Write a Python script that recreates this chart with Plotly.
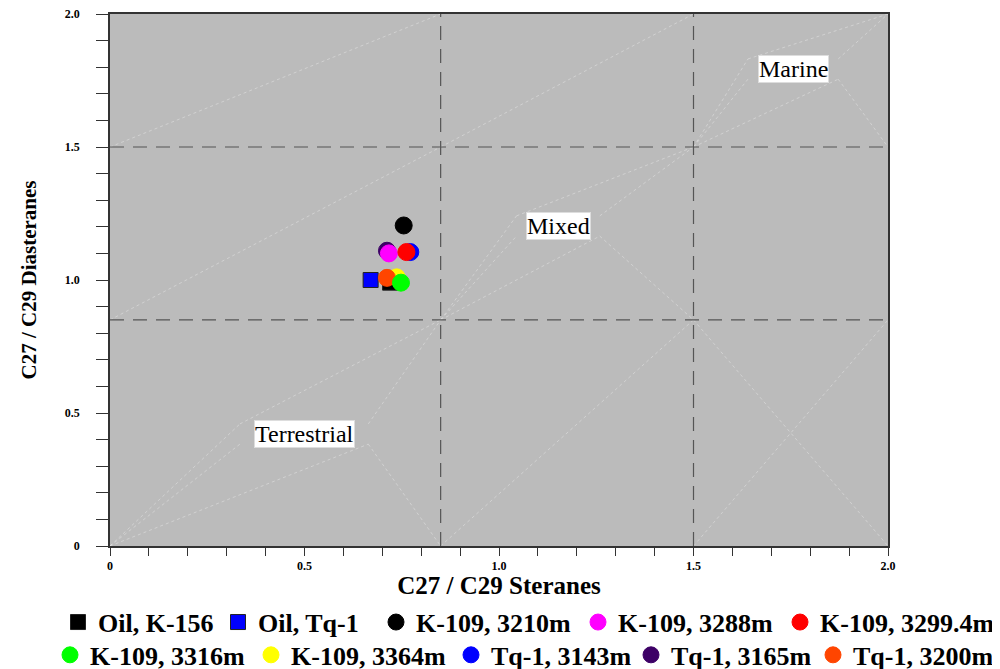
import plotly.graph_objects as go

# ---------------- data ----------------
legend_names = ["Oil, K-156", "Oil, Tq-1", "K-109, 3210m", "K-109, 3288m", "K-109, 3299.4m",
                "K-109, 3316m", "K-109, 3364m", "Tq-1, 3143m", "Tq-1, 3165m", "Tq-1, 3200m"]
steranes = [0.72, 0.67, 0.755, 0.717, 0.762, 0.748, 0.737, 0.772, 0.712, 0.712]      # C27/C29 steranes (x)
diasteranes = [0.99, 1.0, 1.205, 1.10, 1.105, 0.99, 1.01, 1.105, 1.11, 1.008]          # C27/C29 diasteranes (y)
colors = ["#000000", "#0000ff", "#000000", "#ff00ff", "#ff0000",
          "#00ff00", "#ffff00", "#0000ff", "#3d0066", "#ff4500"]
symbols = ["square", "square", "circle", "circle", "circle",
           "circle", "circle", "circle", "circle", "circle"]
# drawing order (back to front)
draw_order = [0, 1, 8, 7, 2, 3, 4, 6, 9, 5]

boundaries = [0.85, 1.5]
axis_max = 2.0
tick_vals = [round(i * 0.1, 1) for i in range(21)]
tick_text = {0.0: "0", 0.5: "0.5", 1.0: "1.0", 1.5: "1.5", 2.0: "2.0"}

zones = [
    dict(name="Terrestrial", x=0.499, y=0.421, hw=0.165, x0=0.0, y0=0.0, x1=0.85, y1=0.85),
    dict(name="Mixed", x=1.152, y=1.203, hw=0.107, x0=0.85, y0=0.85, x1=1.5, y1=1.5),
    dict(name="Marine", x=1.756, y=1.793, hw=0.116, x0=1.5, y0=1.5, x1=2.0, y1=2.0),
]

# legend entry placement (one legend box per entry, two rows like the original)
legend_x = [0.050, 0.210, 0.368, 0.570, 0.772, 0.042, 0.243, 0.443, 0.623, 0.805]
legend_y = [0.082, 0.082, 0.082, 0.082, 0.082, 0.033, 0.033, 0.033, 0.033, 0.033]

FONT = "Liberation Serif"

fig = go.Figure()

# faint decorative diagonal guide lines
faint = dict(color="rgba(255,255,255,0.32)", width=1, dash="dot")
diag_pairs = [
    ((0.0, 0.85), (0.85, 1.5)),
    ((0.0, 1.5), (0.85, 2.0)),
    ((0.85, 1.5), (1.5, 2.0)),
    ((0.85, 0.0), (1.5, 0.85)),
    ((1.5, 0.0), (2.0, 0.85)),
    ((1.5, 0.85), (2.0, 0.0)),
]
for (a, b) in diag_pairs:
    fig.add_trace(go.Scatter(x=[a[0], b[0]], y=[a[1], b[1]], mode="lines", line=faint,
                             hoverinfo="skip", showlegend=False))

# label callout lines for zones
for z in zones:
    hh = 0.038
    lx0, lx1 = z["x"] - z["hw"], z["x"] + z["hw"]
    ly0, ly1 = z["y"] - hh, z["y"] + hh
    segs = [
        ((z["x0"], z["y0"]), (lx0, ly1)),
        ((z["x0"], z["y0"]), (lx0, ly0)),
        ((z["x0"], z["y0"]), (lx1, ly0)),
        ((lx0, ly1), (z["x1"], z["y1"])),
        ((lx1, ly1), (z["x1"], z["y1"])),
        ((lx1, ly0), (z["x1"], z["y0"])),
    ]
    for (a, b) in segs:
        fig.add_trace(go.Scatter(x=[a[0], b[0]], y=[a[1], b[1]], mode="lines", line=faint,
                                 hoverinfo="skip", showlegend=False))

# boundary dashed lines
for b in boundaries:
    fig.add_trace(go.Scatter(x=[b, b], y=[0, axis_max], mode="lines",
                             line=dict(color="#555555", width=1.2, dash="14px,9px"),
                             hoverinfo="skip", showlegend=False))
    fig.add_trace(go.Scatter(x=[0, axis_max], y=[b, b], mode="lines",
                             line=dict(color="#555555", width=1.2, dash="14px,9px"),
                             hoverinfo="skip", showlegend=False))

# sample points
for i in draw_order:
    is_sq = symbols[i] == "square"
    fig.add_trace(go.Scatter(
        x=[steranes[i]], y=[diasteranes[i]], mode="markers", name=legend_names[i],
        legend="legend" if i == 0 else f"legend{i + 1}",
        marker=dict(symbol=symbols[i], size=15 if is_sq else 17, color=colors[i],
                    line=dict(color="#222222" if is_sq else colors[i], width=1)),
    ))

for z in zones:
    fig.add_annotation(x=z["x"], y=z["y"], text=z["name"], showarrow=False,
                       font=dict(family=FONT, size=24, color="black"),
                       bgcolor="white", bordercolor="#dddddd", borderwidth=1, borderpad=0)

axis_common = dict(range=[0, axis_max], tickmode="array", tickvals=tick_vals,
                   ticktext=[tick_text.get(v, "") for v in tick_vals],
                   ticks="outside", tickcolor="#333333", tickwidth=1,
                   showgrid=False, zeroline=False, showline=True, linecolor="#333333",
                   linewidth=1.5, mirror=True, ticklabeloverflow="allow",
                   tickfont=dict(family=FONT, size=12, color="black", weight="bold"))

fig.update_xaxes(**axis_common, ticklen=8,
                 title=dict(text="<b>C27 / C29 Steranes</b>", standoff=12,
                            font=dict(family=FONT, size=25, color="black")))
fig.update_yaxes(**axis_common, ticklen=12, ticklabelstandoff=14,
                 title=dict(text="<b>C27 / C29 Diasteranes</b>", standoff=22,
                            font=dict(family=FONT, size=21, color="black")))

leg_common = dict(orientation="h", xref="container", yref="container",
                  xanchor="left", yanchor="middle",
                  font=dict(family=FONT, size=26, color="black", weight="bold"),
                  itemsizing="trace", bgcolor="rgba(0,0,0,0)", borderwidth=0)

legends = {}
for i in range(len(legend_names)):
    key = "legend" if i == 0 else f"legend{i + 1}"
    legends[key] = dict(**leg_common, x=legend_x[i], y=legend_y[i])

fig.update_layout(
    width=1000, height=669,
    margin=dict(l=102, r=120, t=6, b=131, autoexpand=False),
    paper_bgcolor="white", plot_bgcolor="#bbbbbb",
    **legends,
)

fig.write_html("out.html")
